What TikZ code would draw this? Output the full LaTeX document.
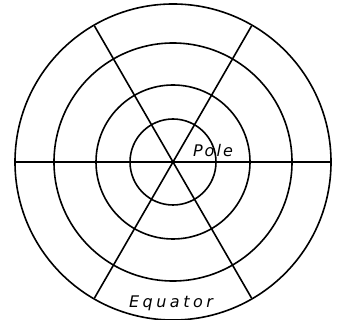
\documentclass[tikz,border=0pt]{standalone}
\usepackage{fontspec}
\setsansfont{DejaVu Sans}
\begin{document}
\begin{tikzpicture}[x=1pt, y=-1pt, line width=1.6pt, every node/.style={inner sep=0pt, anchor=base, font=\sffamily\itshape\fontsize{16}{18}\selectfont}]
	% 1. 画布与圆心
	\useasboundingbox (0,0) rectangle (337,320);
	\coordinate (O) at (173,162);
	
	% 2. 同心圆
	\foreach \r in {43,77,119,158}
		\draw (O) circle[radius=\r];
	
	% 3. 经线（过圆心的直线）
	\draw[line width=1.2pt] (O) ++(0:158) -- ++(180:316);
	\foreach \a in {60,120}
		\draw (O) ++(\a:157) -- ++(\a+180:314);
	
	% 4. 标注
	\node[font=\sffamily\itshape\fontsize{16}{18}\selectfont\addfontfeature{LetterSpace=13}] (pole) at (213,157) {Pole};
	\node[font=\sffamily\itshape\fontsize{16}{18}\selectfont\addfontfeature{LetterSpace=22}] (equator) at (171,307) {Equator};
\end{tikzpicture}
\end{document}
